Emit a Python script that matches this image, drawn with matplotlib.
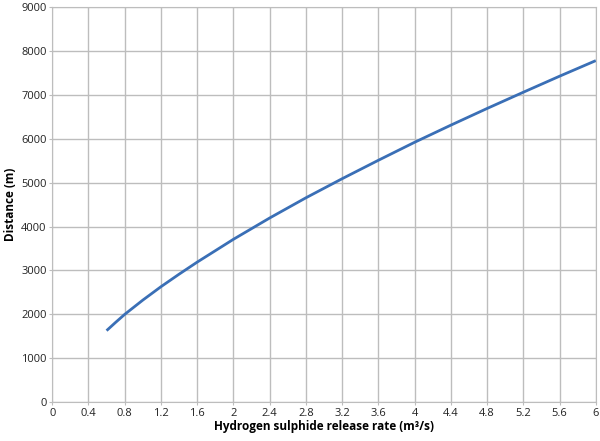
import matplotlib
matplotlib.use("Agg")
import matplotlib.pyplot as plt

# release rate (m3/s) vs distance (m)
rate = [0.6, 0.7, 0.8, 1.0, 1.2, 1.4, 1.6, 2.0, 2.4, 2.8, 3.2, 3.6, 4.0, 4.4, 4.8, 5.2, 5.6, 6.0]
distance = [1630, 1818, 2000, 2325, 2630, 2915, 3190, 3710, 4195, 4655, 5090, 5510, 5920,
            6310, 6690, 7060, 7425, 7780]

x_ticks = [0, 0.4, 0.8, 1.2, 1.6, 2, 2.4, 2.8, 3.2, 3.6, 4, 4.4, 4.8, 5.2, 5.6, 6]
y_ticks = list(range(0, 9001, 1000))

GRID = "#bdbdbd"
LINE = "#3a6fb6"

plt.rcParams["font.family"] = ["Open Sans", "DejaVu Sans"]

fig = plt.figure(figsize=(6, 4.41), dpi=100)
ax = fig.add_axes([0.087, 0.088, 0.906, 0.896])
ax.plot(rate, distance, color=LINE, lw=2.0, solid_capstyle="butt")

ax.set_xlim(0, 6)
ax.set_ylim(0, 9000)
ax.set_xticks(x_ticks)
ax.set_xticklabels([f"{t:g}" for t in x_ticks])
ax.set_yticks(y_ticks)
ax.grid(True, color=GRID, lw=1.0)
ax.set_axisbelow(True)
for s in ax.spines.values():
    s.set_color(GRID)
ax.tick_params(colors="#222222", labelsize=8, length=2, color=GRID, pad=2)

ax.set_xlabel("Hydrogen sulphide release rate (m³/s)", fontsize=8.5, fontweight="bold", labelpad=1)
ax.set_ylabel("Distance (m)", fontsize=8.5, fontweight="bold", labelpad=3)

fig.savefig("out.png", dpi=100)
